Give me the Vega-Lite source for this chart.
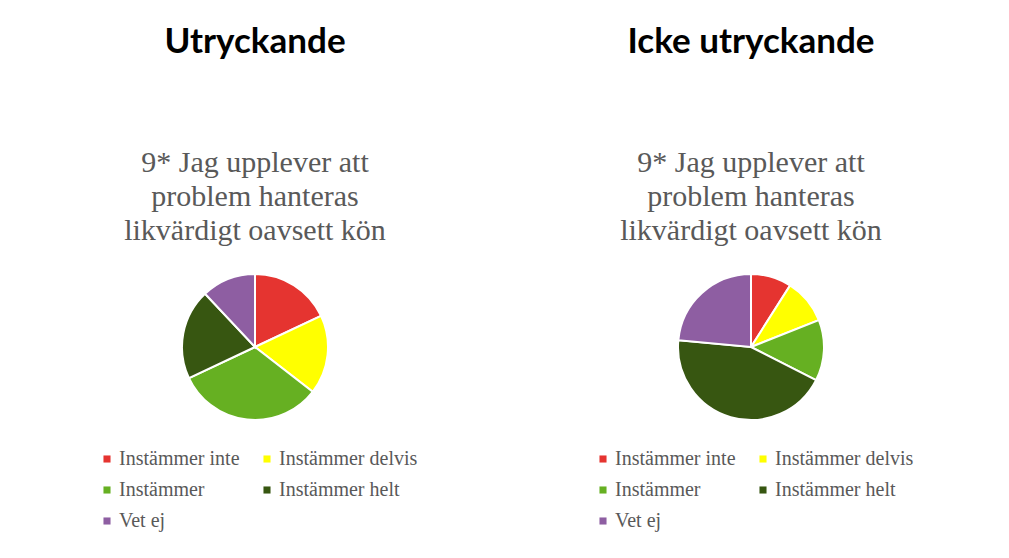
{
  "$schema": "https://vega.github.io/schema/vega-lite/v6.json",
  "background": "white",
  "padding": {"left": 97, "top": 25, "right": 5, "bottom": 5},
  "spacing": 175,
  "config": {
    "view": {"stroke": null},
    "title": {
      "anchor": "middle",
      "font": "Lato",
      "fontSize": 35,
      "fontWeight": "bold",
      "color": "#000000",
      "subtitleFont": "Liberation Serif",
      "subtitleFontSize": 30,
      "subtitleColor": "#595959",
      "subtitleLineHeight": 34,
      "subtitlePadding": 88,
      "offset": 24
    },
    "legend": {
      "orient": "bottom",
      "columns": 2,
      "title": null,
      "symbolType": "square",
      "symbolSize": 50,
      "symbolStrokeWidth": 0,
      "labelFont": "Liberation Serif",
      "labelFontSize": 20,
      "labelColor": "#595959",
      "labelOffset": 2,
      "rowPadding": 11,
      "columnPadding": 17,
      "offset": 29,
      "labelLimit": 300
    }
  },
  "hconcat": [
    {
      "title": {"text": "Utryckande", "subtitle": ["9* Jag upplever att", "problem hanteras", "likvärdigt oavsett kön"]},
      "width": 316,
      "height": 146,
      "data": {"values": [
        {"svar": "Instämmer inte", "andel": 18, "ordning": 1},
        {"svar": "Instämmer delvis", "andel": 17.5, "ordning": 2},
        {"svar": "Instämmer", "andel": 32.5, "ordning": 3},
        {"svar": "Instämmer helt", "andel": 20, "ordning": 4},
        {"svar": "Vet ej", "andel": 12, "ordning": 5}
      ]},
      "mark": {"type": "arc", "outerRadius": 73, "stroke": "white", "strokeWidth": 2},
      "encoding": {
        "theta": {"field": "andel", "type": "quantitative", "stack": true},
        "order": {"field": "ordning", "type": "quantitative"},
        "color": {
          "field": "svar", "type": "nominal",
          "scale": {"domain": ["Instämmer inte", "Instämmer delvis", "Instämmer", "Instämmer helt", "Vet ej"],
                    "range": ["#E53430", "#FFFF00", "#66B022", "#375611", "#8E5EA2"]}
        }
      }
    },
    {
      "title": {"text": "Icke utryckande", "subtitle": ["9* Jag upplever att", "problem hanteras", "likvärdigt oavsett kön"]},
      "width": 316,
      "height": 146,
      "data": {"values": [
        {"svar": "Instämmer inte", "andel": 9, "ordning": 1},
        {"svar": "Instämmer delvis", "andel": 10, "ordning": 2},
        {"svar": "Instämmer", "andel": 13.5, "ordning": 3},
        {"svar": "Instämmer helt", "andel": 44, "ordning": 4},
        {"svar": "Vet ej", "andel": 23.5, "ordning": 5}
      ]},
      "mark": {"type": "arc", "outerRadius": 73, "stroke": "white", "strokeWidth": 2},
      "encoding": {
        "theta": {"field": "andel", "type": "quantitative", "stack": true},
        "order": {"field": "ordning", "type": "quantitative"},
        "color": {
          "field": "svar", "type": "nominal",
          "scale": {"domain": ["Instämmer inte", "Instämmer delvis", "Instämmer", "Instämmer helt", "Vet ej"],
                    "range": ["#E53430", "#FFFF00", "#66B022", "#375611", "#8E5EA2"]}
        }
      }
    }
  ],
  "resolve": {"scale": {"color": "independent"}}
}
